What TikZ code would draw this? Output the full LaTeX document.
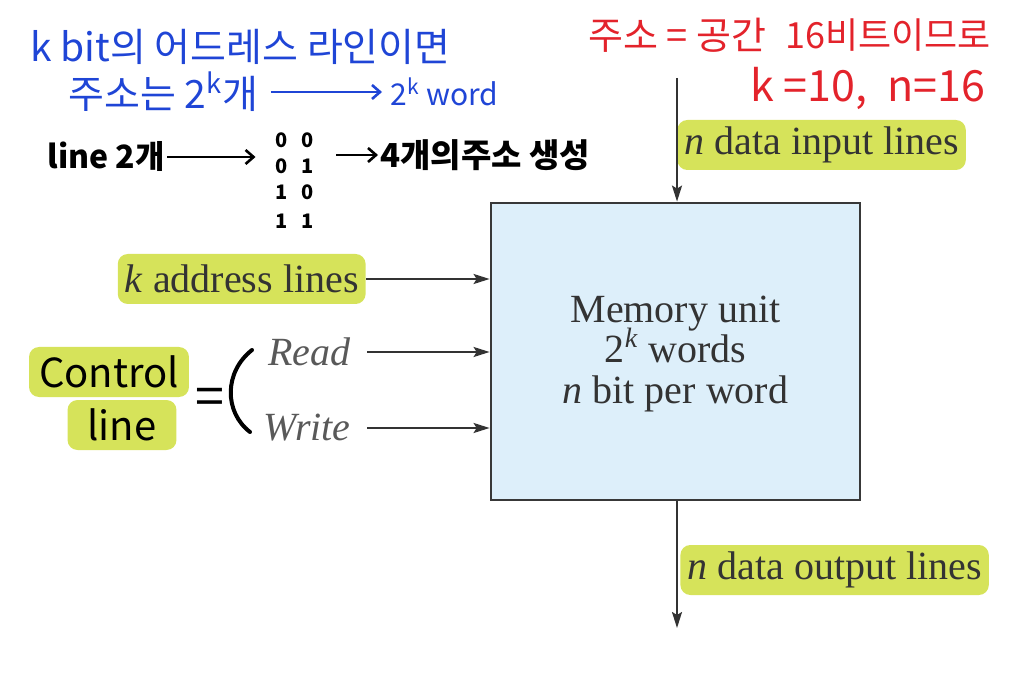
\documentclass[tikz,border=0pt]{standalone}
\usepackage{fontspec}
\setmainfont{Liberation Serif}
\newfontfamily\hand{Noto Sans CJK KR}
\usetikzlibrary{arrows.meta,positioning}
\definecolor{tagfill}{HTML}{D6E35A}
\definecolor{unitfill}{HTML}{DDEFFA}
\definecolor{penblue}{HTML}{1F45D6}
\definecolor{penred}{HTML}{E3232B}
\begin{document}
\begin{tikzpicture}[x=0.5pt,y=-0.5pt,font=\fontsize{20}{20.25}\selectfont,
  tag/.style={fill=tagfill,rounded corners=5pt,inner xsep=3.5pt,minimum height=25pt,text=black!80},
  wire/.style={draw=black!80,line width=1pt,-{Stealth[length=8pt,width=5pt,inset=1.5pt]}},
  ink/.style={inner sep=1pt,font=\hand\fontsize{#1}{#1}\selectfont},ink/.default=19.5,
  bold ink/.style={inner sep=1pt,font=\hand\bfseries\fontsize{#1}{#1}\selectfont},
  pen/.style={line width=1.3pt,-{Straight Barb[length=4pt,width=7pt]}}]
\useasboundingbox (0,0) rectangle (1036,683);
\node[draw=black!78,line width=1.4pt,fill=unitfill,minimum width=184.5pt,minimum height=148.5pt] (M) at (675.5,351.5) {};
\node[align=center,text=black!80] (M-t) at (675.5,354)
  {Memory unit\\2\smash{\textsuperscript{\itshape k}} words\\\textit{n} bit per word};
\node[tag,anchor=west] (D-1) at (677,145) {\textit{n} data input lines};
\coordinate (D-0) at (677,78);
\draw[wire] (D-0) -- (D-0 |- M.north);
\node[tag,anchor=west] (D-2) at (680,570) {\textit{n} data output lines};
\coordinate (D-3) at (677,628);
\draw[wire] (D-3 |- M.south) -- (D-3);
\foreach \X/\Y [count=\N] in {{\textit{k} address lines}/279,Read/352,Write/428}
  {\ifnum\N=1
  \node[tag,anchor=east] (A-\N) at (366,\Y) {\X};
  \else
  \node[anchor=east,inner xsep=8pt,text=black!65] (A-\N) at (367,\Y) {\textit{\X}};
  \fi
  \draw[wire] (A-\N.east) -- (A-\N.east -| M.west);}
\node[ink=20,tag,inner xsep=5pt,text=black] (C-1) at (109,372) {Control};
\node[ink=20,tag,inner xsep=10pt,text=black] (C-2) at (122,425) {line};
\node[ink=26] (C-3) at (210,402) {=};
\draw[line width=2pt,line cap=round] (252,350) .. controls (224,372) and (224,412) .. (250,432);
\node[ink,text=penblue,anchor=west] (K-1) at (28,47) {k bit의 어드레스 라인이면};
\node[ink,text=penblue,anchor=west] (K-2) at (66,92) {주소는 2\textsuperscript{k}개};
\node[ink=15,text=penblue,anchor=west] (K-3) at (388,92) {2\textsuperscript{k} word};
\draw[pen,penblue,shorten <=5pt,shorten >=3pt] (K-2) -- (K-3);
\node[bold ink=16,anchor=west] (L-1) at (45,157) {line 2개};
\foreach \A/\B/\Y [count=\R] in {0/0/140,0/1/166,1/0/192,1/1/221}
  {\node[bold ink=10,inner sep=0pt] (B-\R-1) at (282,\Y) {\A};
  \node[bold ink=10,inner sep=0pt] (B-\R-2) at (308,\Y) {\B};}
\node[bold ink=16.5,anchor=west] (L-2) at (378,155) {4개의주소 생성};
\draw[pen,shorten >=10pt] (L-1.east) -- (L-1.east -| B-2-1.west);
\draw[pen,shorten <=11pt] (B-2-2.east |- L-2.west) -- (L-2.west);
\node[ink=19,text=penred,anchor=west] (R-1) at (586,35) {주소 = 공간};
\node[ink=18,text=penred,anchor=west] (R-2) at (783,35) {16비트이므로};
\node[ink=21.5,text=penred,anchor=west] (R-3) at (748,88) {k =10,\hspace{10pt}n=16};
\end{tikzpicture}
\end{document}
